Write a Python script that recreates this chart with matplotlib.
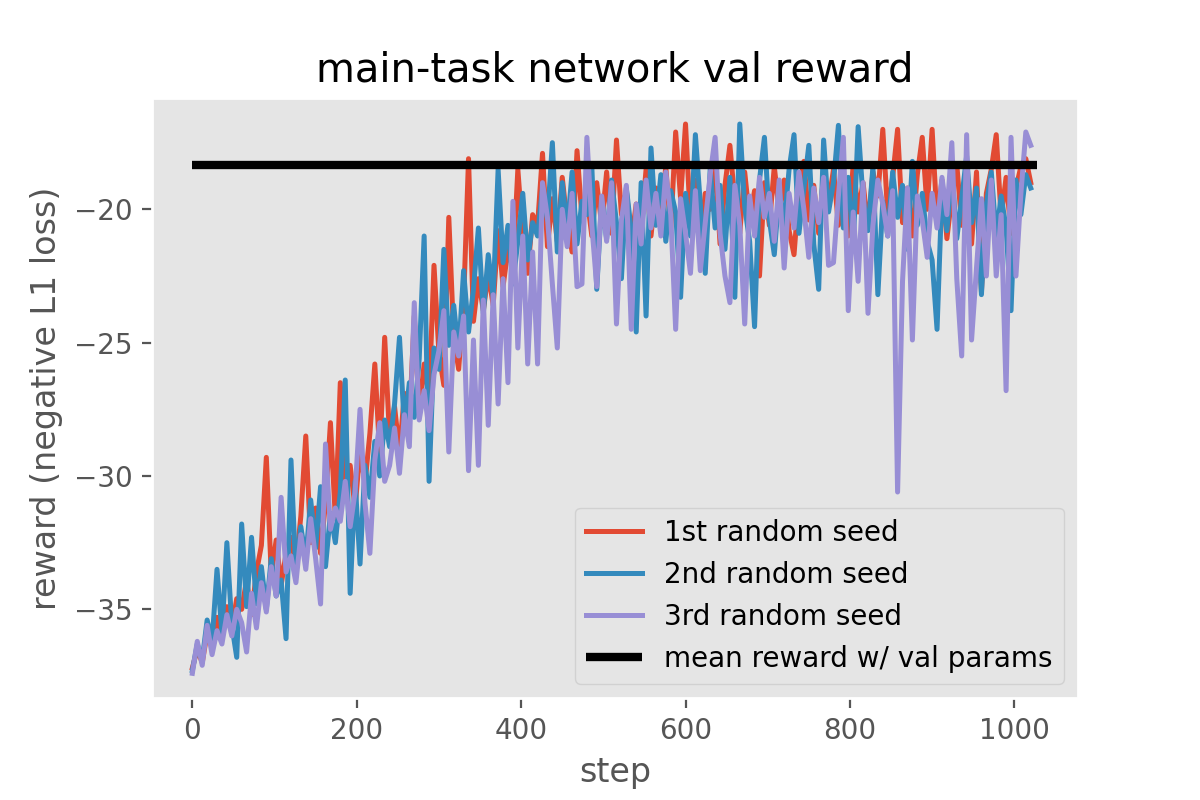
import matplotlib
matplotlib.use('Agg')
import matplotlib.pyplot as plt

steps = list(range(0, 1021, 6))

seed1 = [
    -37.2, -36.5, -37.0, -35.9, -36.4, -35.3, -36.1, -34.9, -35.7, -34.6,
    -35.0, -33.9, -35.2, -33.6, -32.6, -29.3, -33.7, -32.4, -34.1, -32.9,
    -32.3, -33.4, -31.5, -28.5, -32.5, -31.2, -32.9, -31.0, -28.0, -31.6,
    -26.5, -30.8, -29.6, -31.2, -29.0, -30.3, -28.4, -25.8, -29.2, -24.8,
    -28.6, -27.4, -29.1, -26.9, -28.0, -24.0, -27.6, -25.8, -27.0, -22.1,
    -25.4, -26.6, -20.3, -24.8, -26.0, -23.5, -18.1, -24.2, -22.6, -23.8,
    -22.4, -23.6, -20.8, -22.9, -21.5, -22.2, -18.5, -21.0, -22.4, -20.2,
    -20.6, -17.9, -21.4, -19.6, -21.2, -18.8, -20.5, -21.6, -17.8, -20.3,
    -19.5, -21.0, -19.0, -20.6, -18.6, -20.9, -17.4, -20.2, -19.3, -21.2,
    -19.8, -20.7, -18.5, -21.0, -19.2, -20.3, -18.4, -20.8, -17.1, -19.6,
    -16.8, -20.5, -18.9, -21.2, -19.4, -20.0, -18.2, -21.3, -19.1, -17.6,
    -19.7, -20.9, -18.6, -20.4, -19.3, -22.5, -19.0, -20.6, -18.4, -20.1,
    -18.9, -20.8, -21.7, -19.3, -18.2, -20.4, -19.1, -20.9, -18.7, -19.8,
    -18.5, -20.6, -19.4, -21.0, -18.3, -20.1, -19.0, -20.7, -18.6, -19.5,
    -17.0, -20.2, -18.8, -17.0, -20.5, -19.2, -21.0, -18.7, -17.3, -20.0,
    -17.0, -20.4, -18.9, -21.1, -19.5, -18.3, -20.6, -19.0, -21.3, -18.6,
    -23.1, -19.4, -18.5, -17.2, -20.3, -18.8, -20.9, -19.2, -18.4, -18.1,
    -19.0]

seed2 = [
    -37.3, -36.3, -36.9, -35.4, -36.2, -33.5, -35.9, -32.5, -35.6, -36.8,
    -31.8, -34.9, -32.3, -34.8, -33.4, -35.0, -33.1, -34.5, -33.9, -36.1,
    -29.4, -33.7, -31.9, -33.1, -30.9, -32.7, -30.4, -33.4, -31.4, -32.5,
    -30.6, -26.4, -34.4, -30.2, -33.3, -29.6, -30.8, -28.7, -30.0, -27.9,
    -28.9, -27.3, -24.8, -28.2, -26.5, -27.8, -25.6, -21.0, -30.2, -25.2,
    -26.0, -21.5, -25.1, -23.6, -25.4, -22.3, -24.6, -23.0, -20.7, -23.9,
    -21.7, -23.3, -18.5, -22.0, -20.6, -22.8, -21.2, -19.4, -21.9, -20.5,
    -21.0, -19.2, -20.4, -17.5, -21.6, -19.0, -20.8, -18.6, -21.3, -19.7,
    -20.2, -18.4, -23.0, -19.6, -21.1, -18.9, -20.5, -22.6, -19.2, -20.8,
    -24.6, -19.0, -24.0, -17.7, -20.6, -18.7, -21.2, -19.3, -20.1, -23.3,
    -19.4, -21.0, -17.2, -19.8, -22.4, -18.5, -20.7, -19.1, -21.5, -18.8,
    -23.3, -16.8, -19.9, -21.2, -24.4, -18.9, -17.3, -20.4, -21.7, -19.3,
    -20.6, -18.5, -17.2, -20.9, -19.2, -17.6, -21.3, -23.0, -17.4, -20.1,
    -19.0, -16.85, -20.7, -18.8, -21.4, -16.9, -19.6, -20.8, -18.4, -23.2,
    -19.7, -21.0, -18.6, -20.3, -19.1, -21.5, -18.2, -20.6, -19.4, -21.2,
    -21.9, -24.5, -19.3, -20.8, -18.5, -21.1, -19.6, -18.0, -20.5, -19.2,
    -23.2, -19.8, -18.6, -21.0, -19.5, -20.7, -23.8, -18.9, -20.2, -18.7,
    -19.2]

seed3 = [
    -37.4, -36.2, -37.1, -35.6, -36.7, -35.8, -36.3, -35.2, -36.0, -35.0,
    -35.5, -36.6, -34.4, -35.7, -34.0, -35.1, -33.4, -34.5, -30.8, -33.6,
    -33.0, -34.0, -32.2, -33.5, -31.6, -33.1, -34.8, -28.8, -32.0, -31.2,
    -31.7, -30.2, -31.9, -30.6, -27.5, -31.0, -32.9, -29.4, -28.0, -30.2,
    -29.6, -28.2, -29.9, -27.7, -28.9, -23.5, -27.9, -26.8, -28.3, -26.2,
    -25.3, -23.8, -29.1, -24.6, -25.5, -24.0, -29.8, -24.9, -29.6, -23.4,
    -28.1, -23.2, -27.3, -22.6, -26.5, -19.7, -25.2, -21.0, -25.8, -21.6,
    -25.8, -19.0, -20.3, -22.8, -25.2, -20.0, -21.4, -19.4, -22.9, -22.8,
    -17.3, -20.6, -22.9, -19.5, -21.2, -19.0, -24.3, -20.4, -19.1, -24.5,
    -19.8, -21.3, -18.9, -20.7, -19.4, -21.0, -18.6, -20.2, -24.5, -19.6,
    -20.9, -22.4, -19.3, -22.3, -20.5, -18.7, -17.3, -20.9, -22.5, -23.5,
    -19.1, -20.6, -24.3, -19.5, -21.0, -18.8, -20.3, -19.4, -21.2, -18.9,
    -22.2, -19.4, -20.7, -18.6, -20.0, -21.8, -19.2, -20.5, -18.8, -22.1,
    -22.0, -19.5, -17.3, -23.8, -20.1, -22.7, -19.0, -23.9, -20.6, -18.9,
    -19.8, -21.0, -19.3, -30.6, -22.7, -19.2, -24.9, -19.5, -20.4, -21.8,
    -19.4, -20.7, -18.8, -20.2, -17.5, -22.6, -25.5, -17.2, -24.9, -22.2,
    -19.6, -22.5, -18.9, -22.5, -20.2, -26.8, -17.3, -22.5, -19.4, -17.1,
    -17.6]

mean_reward = -18.35
mean_span = [0, 1027]

plt.style.use('ggplot')
fig = plt.figure(figsize=(6, 4), dpi=200)
ax = fig.add_subplot(111)
fig.subplots_adjust(left=0.127, right=0.898, bottom=0.128, top=0.877)

ax.plot(steps, seed1, lw=1.8, label='1st random seed')
ax.plot(steps, seed2, lw=1.8, label='2nd random seed')
ax.plot(steps, seed3, lw=1.8, label='3rd random seed')
ax.plot(mean_span, [mean_reward, mean_reward], color='black', lw=3,
        solid_capstyle='butt', label='mean reward w/ val params')

ax.set_xlim(-48.6, 1077)
ax.set_ylim(-38.31, -15.84)
ax.set_yticks([-35, -30, -25, -20])
ax.grid(False)
ax.set_title('main-task network val reward')
ax.set_xlabel('step')
ax.set_ylabel('reward (negative L1 loss)')
ax.legend(loc='lower right')

fig.savefig('out.png', dpi=200)
